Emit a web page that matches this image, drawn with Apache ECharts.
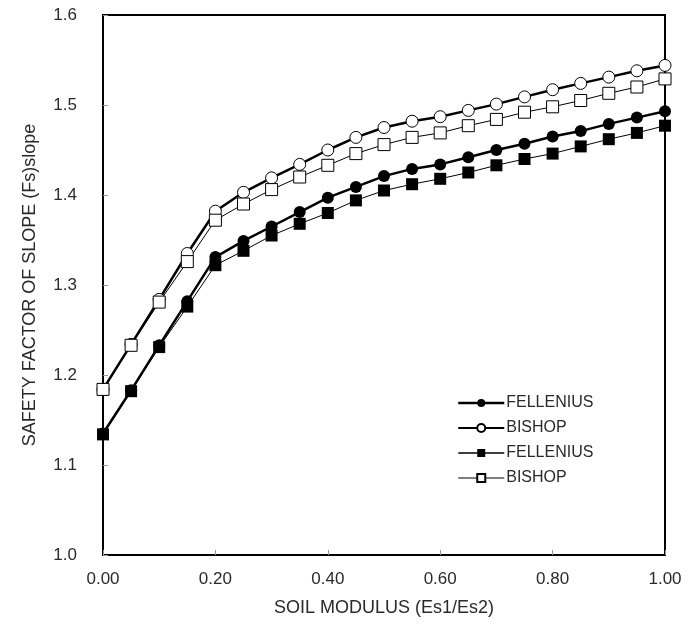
<!DOCTYPE html>
<html>
<head>
<meta charset="utf-8">
<script src="https://cdn.jsdelivr.net/npm/echarts@6/dist/echarts.min.js"></script>
<style>
  html, body { margin: 0; padding: 0; background: #fff; }
  #chart { width: 693px; height: 624px; }
</style>
</head>
<body>
<div id="chart"></div>
<script>
// soil modulus ratio Es1/Es2
const xValues = [0.00, 0.05, 0.10, 0.15, 0.20, 0.25, 0.30, 0.35, 0.40, 0.45, 0.50,
                 0.55, 0.60, 0.65, 0.70, 0.75, 0.80, 0.85, 0.90, 0.95, 1.00];

// safety factors
const felleniusA = [1.135, 1.183, 1.233, 1.282, 1.331, 1.349, 1.365, 1.381, 1.397, 1.409, 1.421,
                    1.429, 1.434, 1.442, 1.450, 1.457, 1.465, 1.471, 1.479, 1.486, 1.493];
const bishopA    = [1.184, 1.234, 1.284, 1.335, 1.382, 1.403, 1.419, 1.434, 1.450, 1.464, 1.475,
                    1.482, 1.487, 1.494, 1.501, 1.509, 1.517, 1.524, 1.531, 1.538, 1.544];
const felleniusB = [1.134, 1.182, 1.231, 1.276, 1.322, 1.338, 1.355, 1.368, 1.380, 1.394, 1.405,
                    1.412, 1.418, 1.425, 1.433, 1.440, 1.446, 1.454, 1.462, 1.469, 1.477];
const bishopB    = [1.184, 1.233, 1.281, 1.326, 1.372, 1.390, 1.406, 1.420, 1.433, 1.446, 1.456,
                    1.464, 1.469, 1.477, 1.484, 1.492, 1.498, 1.505, 1.513, 1.520, 1.529];

const seriesNames = ['FELLENIUS', 'BISHOP', 'FELLENIUS ', 'BISHOP '];

const pairs = (ys) => xValues.map((x, i) => [x, ys[i]]);

const font = 'Liberation Sans, Arial, sans-serif';
const textColor = '#2a2a2a';

function makeSeries(name, ys, symbol, filled, width, size) {
    return {
        name: name,
        type: 'line',
        data: pairs(ys),
        symbol: symbol,
        symbolSize: size,
        showSymbol: true,
        animation: false,
        lineStyle: { color: '#000', width: width },
        itemStyle: {
            color: filled ? '#000' : '#fff',
            borderColor: '#000',
            borderWidth: filled ? 0 : 1
        }
    };
}

let chart = echarts.init(document.getElementById('chart'), null, { renderer: 'canvas' });

let option = {
    backgroundColor: '#fff',
    grid: {
        left: 103, right: 28, top: 15, bottom: 69,
        show: true, borderColor: '#000', borderWidth: 2, backgroundColor: 'transparent'
    },
    legend: {
        orient: 'vertical',
        left: 452,
        top: 390,
        itemWidth: 46,
        itemHeight: 10,
        itemGap: 9,
        data: [
            { name: seriesNames[0], lineStyle: { color: '#000', width: 2.5 } },
            { name: seriesNames[1], lineStyle: { color: '#000', width: 2 } },
            { name: seriesNames[2], lineStyle: { color: '#000', width: 1.5 } },
            { name: seriesNames[3], lineStyle: { color: '#000', width: 1 } }
        ],
        formatter: (n) => n.trim(),
        textStyle: { fontFamily: font, fontSize: 16, color: textColor, padding: [0, 0, 0, -3] }
    },
    xAxis: {
        type: 'value',
        min: 0, max: 1, interval: 0.2,
        name: 'SOIL MODULUS (Es1/Es2)',
        nameLocation: 'middle',
        nameGap: 44,
        nameTextStyle: { fontFamily: font, fontSize: 18, color: textColor },
        axisLine: { lineStyle: { color: '#000', width: 2 } },
        axisTick: { inside: true, length: 5, lineStyle: { color: '#999' } },
        axisLabel: {
            margin: 16, fontFamily: font, fontSize: 17, color: textColor,
            formatter: (v) => v.toFixed(2)
        },
        splitLine: { show: false }
    },
    yAxis: {
        type: 'value',
        min: 1.0, max: 1.6, interval: 0.1,
        name: 'SAFETY FACTOR OF SLOPE (Fs)slope',
        nameLocation: 'middle',
        nameGap: 64,
        nameTextStyle: { fontFamily: font, fontSize: 18, color: textColor },
        axisLine: { show: true, lineStyle: { color: '#000', width: 2 } },
        axisTick: { show: true, inside: true, length: 5, lineStyle: { color: '#999' } },
        axisLabel: {
            margin: 26, fontFamily: font, fontSize: 17, color: textColor,
            formatter: (v) => v.toFixed(1)
        },
        splitLine: { show: false }
    },
    series: [
        makeSeries(seriesNames[0], felleniusA, 'circle', true, 2.5, 12),
        makeSeries(seriesNames[1], bishopA, 'circle', false, 2.5, 12),
        makeSeries(seriesNames[2], felleniusB, 'rect', true, 1, 12),
        makeSeries(seriesNames[3], bishopB, 'rect', false, 1, 12)
    ]
};

if (option && typeof option === 'object') {
    chart.setOption(option);
}
window.addEventListener('resize', chart.resize);
</script>
</body>
</html>
